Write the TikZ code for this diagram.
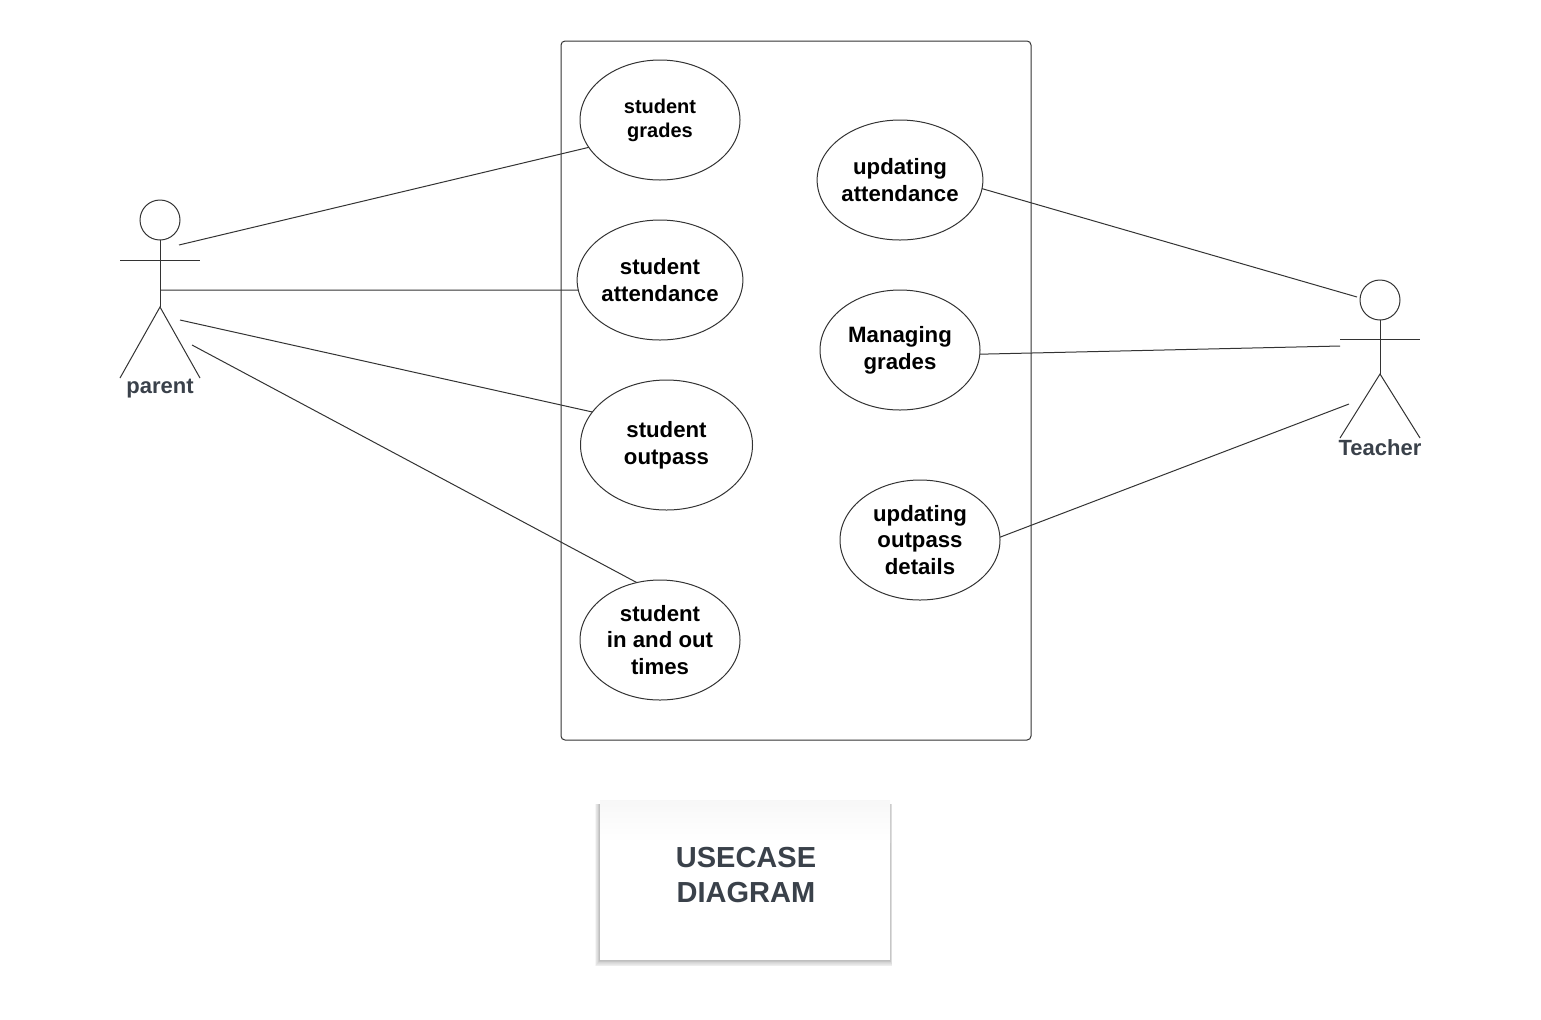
\documentclass[tikz,border=0pt]{standalone}
\usepackage{fontspec}
\setmainfont{Liberation Sans}
\usetikzlibrary{shapes.geometric}
\definecolor{lineclr}{HTML}{333333}
\definecolor{textclr}{HTML}{3A414A}
\tikzset{
	lin/.style={draw=lineclr, line width=0.5pt},
	usecase/.style={lin, ellipse, inner sep=0pt, outer sep=0pt, minimum width=80pt, minimum height=60pt, align=center, font=\bfseries\fontsize{11.1}{13.4}\selectfont},
	smallcase/.style={usecase, font=\bfseries\fontsize{10}{12}\selectfont},
	bigcase/.style={usecase, minimum width=86pt, minimum height=65pt},
	head/.style={lin, circle, inner sep=0pt, outer sep=0pt, minimum size=20pt},
	actorname/.style={text=textclr, inner sep=0pt, font=\bfseries\fontsize{11}{13}\selectfont},
	notetext/.style={text=textclr, inner sep=0pt, align=center, font=\bfseries\fontsize{14.5}{17.5}\selectfont}
}
\begin{document}
\begin{tikzpicture}[x=0.5pt, y=-0.5pt]
	\useasboundingbox (0,0) rectangle (1541,1019);
	% system box
	\draw[lin, rounded corners=2pt] (561,41) rectangle (1031,740);
	% use cases, left column
	\node[smallcase] (grades) at (660,120) {student\\grades};
	\node[usecase] (attend) at (660,280) {student\\attendance};
	\node[bigcase] (outpass) at (666.5,445) {student\\outpass};
	\node[usecase] (times) at (660,640) {student\\in and out\\times};
	% use cases, right column
	\node[usecase] (upattend) at (900,180) {updating\\attendance};
	\node[usecase] (mgrades) at (900,350) {Managing\\grades};
	\node[usecase] (updetails) at (920,540) {updating\\outpass\\details};
	% actor parent
	\node[head] (phead) at (160,220) {};
	\coordinate (phip) at (160,307);
	\draw[lin] (phead.south) -- (phip);
	\draw[lin] (120,260) -- (200,260);
	\draw[lin] (120,378) -- (phip) -- (200,378);
	\node[actorname] (parent) at (160,389) {parent};
	% actor teacher
	\node[head] (thead) at (1380,300) {};
	\coordinate (thip) at (1380,374);
	\draw[lin] (thead.south) -- (thip);
	\draw[lin] (1340,339.5) -- (1420,339.5);
	\draw[lin] (1340,438) -- (thip) -- (1420,438);
	\node[actorname] (teacher) at (1380,448) {Teacher};
	% free ends near the actors
	\coordinate (pa) at (179,245);
	\coordinate (pb) at (160,290);
	\coordinate (pc) at (180,320);
	\coordinate (pd) at (192,345);
	\coordinate (ta) at (1357,297);
	\coordinate (tb) at (1340,346);
	\coordinate (tc) at (1349,404);
	% connectors
	\draw[lin] (pa) -- (grades.201);
	\draw[lin] (pb) -- (attend.187);
	\draw[lin] (pc) -- (outpass.156.6);
	\draw[lin] (pd) -- (times.112.5);
	\draw[lin] (upattend.-6.5) -- (ta);
	\draw[lin] (mgrades.-3.5) -- (tb);
	\draw[lin] (updetails.2) -- (tc);
	% note with its shadow
	\foreach \i in {1,...,8}
		\fill[black, opacity=0.035] (600-\i*0.6,804) rectangle (890+\i*0.3,960+\i*0.8);
	\fill[white] (600,800) rectangle (890,960);
	\shade[top color=black!3, bottom color=white] (600,800) rectangle (890,842);
	\node[notetext] (note) at (746,875) {USECASE\\DIAGRAM};
\end{tikzpicture}
\end{document}
